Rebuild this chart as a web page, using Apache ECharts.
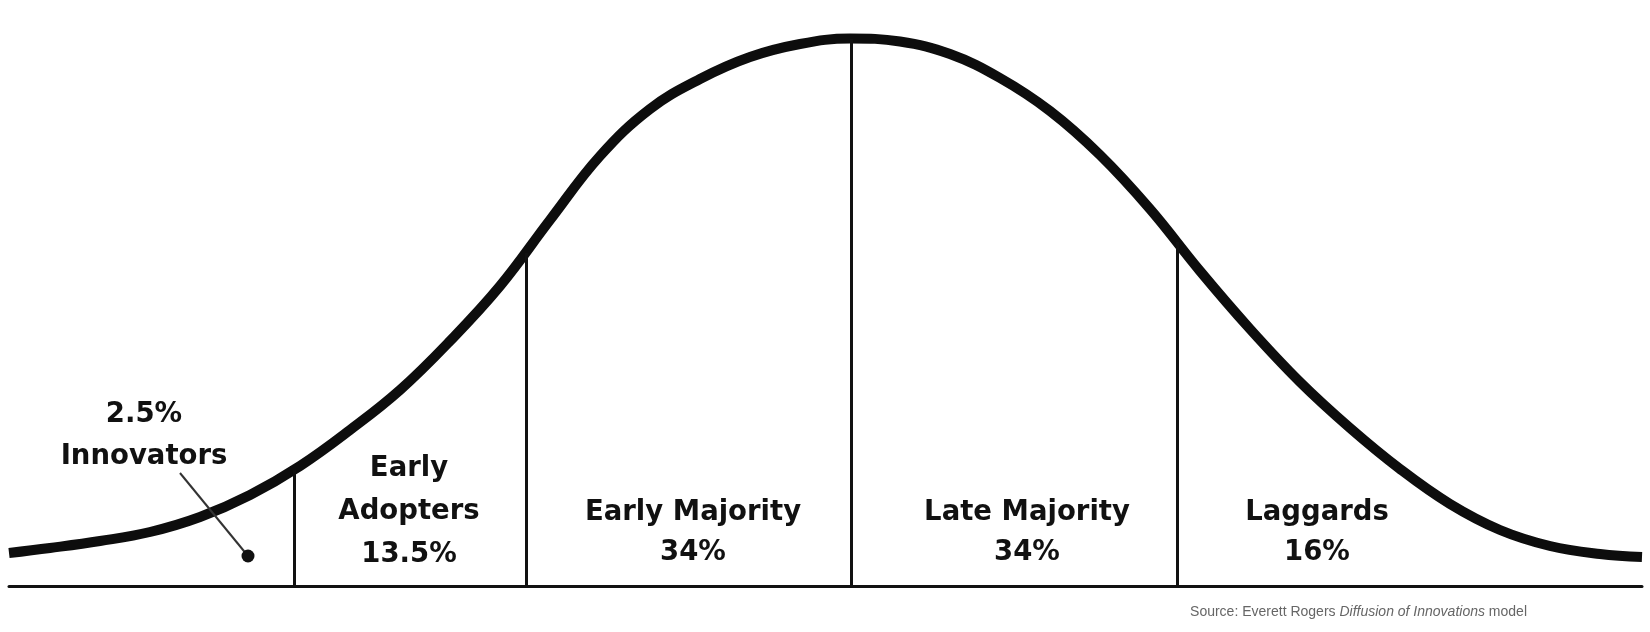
<!DOCTYPE html>
<html>
<head>
<meta charset="utf-8">
<script src="https://cdn.jsdelivr.net/npm/echarts@6/dist/echarts.min.js"></script>
<style>
html,body{margin:0;padding:0;background:#fff;}
#c{width:1650px;height:632px;}
</style>
</head>
<body>
<div id="c"></div>
<script>
// Adoption curve (x = adoption time, y = share height)
const curveX = [9, 50, 100, 150, 200, 250, 300, 350, 400, 450, 500, 550, 600, 650, 700, 750, 800, 850, 900, 950, 1000, 1050, 1100, 1150, 1200, 1250, 1300, 1350, 1400, 1450, 1500, 1550, 1600, 1642];
const curveY = [33, 38, 45, 54, 69, 91, 120, 156, 196, 245, 300, 366, 430, 477, 507, 529, 542, 547.5, 544.5, 532, 508, 475, 431, 377, 315, 257, 204, 158, 117, 82, 56, 40, 32, 29];

// Category boundaries on the curve
const dividerX = [294, 526, 851, 1177];
const dividerY = [116, 333, 547, 344];

// Categories and shares
const categories = ['Innovators', 'Early Adopters', 'Early Majority', 'Late Majority', 'Laggards'];
const shares = ['2.5%', '13.5%', '34%', '34%', '16%'];
const labelTexts = ['2.5%\nInnovators', 'Early\nAdopters\n13.5%', 'Early Majority\n34%', 'Late Majority\n34%', 'Laggards\n16%'];

// Innovators pointer (dot inside the tail, leader towards label)
const innovatorDot = [248, 30];
const innovatorLeaderStart = [180, 113];

// label anchors (layout)
const labelAnchorX = [144, 409, 693, 1027, 1317];
const labelAnchorY = [150, 74, 53, 53, 53];
const labelLineHeights = [42, 43, 40, 40, 40];

const chart = echarts.init(document.getElementById('c'), null, {renderer: 'canvas'});

const dividerLines = dividerX.map((x, i) => [
  {coord: [x, 0], lineStyle: {color: '#111', width: 3, type: 'solid'}},
  {coord: [x, dividerY[i]]}
]);
dividerLines.push([
  {coord: innovatorLeaderStart, lineStyle: {color: '#333', width: 2, type: 'solid'}},
  {coord: innovatorDot}
]);

const option = {
  animation: false,
  backgroundColor: '#ffffff',
  grid: {left: 9, right: 8, top: 0, bottom: 46, containLabel: false},
  xAxis: {
    type: 'value', min: 9, max: 1642,
    axisLine: {show: true, onZero: true, lineStyle: {color: '#111', width: 3}},
    axisTick: {show: false}, axisLabel: {show: false}, splitLine: {show: false}
  },
  yAxis: {
    type: 'value', min: 0, max: 586, show: false, splitLine: {show: false}
  },
  series: [
    {
      name: 'Adoption',
      type: 'line',
      data: curveX.map((x, i) => [x, curveY[i]]),
      smooth: 0.4,
      symbol: 'none',
      lineStyle: {color: '#0d0d0d', width: 10},
      z: 4
    },
    {
      name: 'pointer',
      type: 'scatter',
      data: [innovatorDot],
      symbolSize: 13,
      itemStyle: {color: '#111', opacity: 1},
      z: 5,
      markLine: {
        silent: true,
        animation: false,
        symbol: ['none', 'none'],
        label: {show: false},
        lineStyle: {color: '#111', width: 3, type: 'solid'},
        data: dividerLines
      }
    },
    {
      name: 'labels',
      type: 'scatter',
      symbolSize: 1,
      itemStyle: {color: 'rgba(0,0,0,0)', opacity: 1},
      silent: true,
      z: 6,
      data: labelTexts.map((t, i) => ({
        name: categories[i],
        value: [labelAnchorX[i], labelAnchorY[i]],
        label: {formatter: t, lineHeight: labelLineHeights[i]}
      })),
      label: {
        show: true,
        position: 'inside',
        align: 'center',
        verticalAlign: 'middle',
        fontFamily: 'DejaVu Sans',
        fontWeight: 'bold',
        fontSize: 27.5,
        color: '#111111',
        opacity: 1
      }
    }
  ],
  graphic: [
    {
      type: 'text',
      right: 123,
      top: 605,
      style: {
        text: '{n|Source: Everett Rogers }{i|Diffusion of Innovations}{n| model}',
        rich: {
          n: {fontFamily: 'Liberation Sans', fontSize: 14, fill: '#666', fontStyle: 'normal'},
          i: {fontFamily: 'Liberation Sans', fontSize: 14, fill: '#666', fontStyle: 'italic'}
        },
        fill: '#666'
      }
    }
  ]
};
chart.setOption(option);
</script>
</body>
</html>
